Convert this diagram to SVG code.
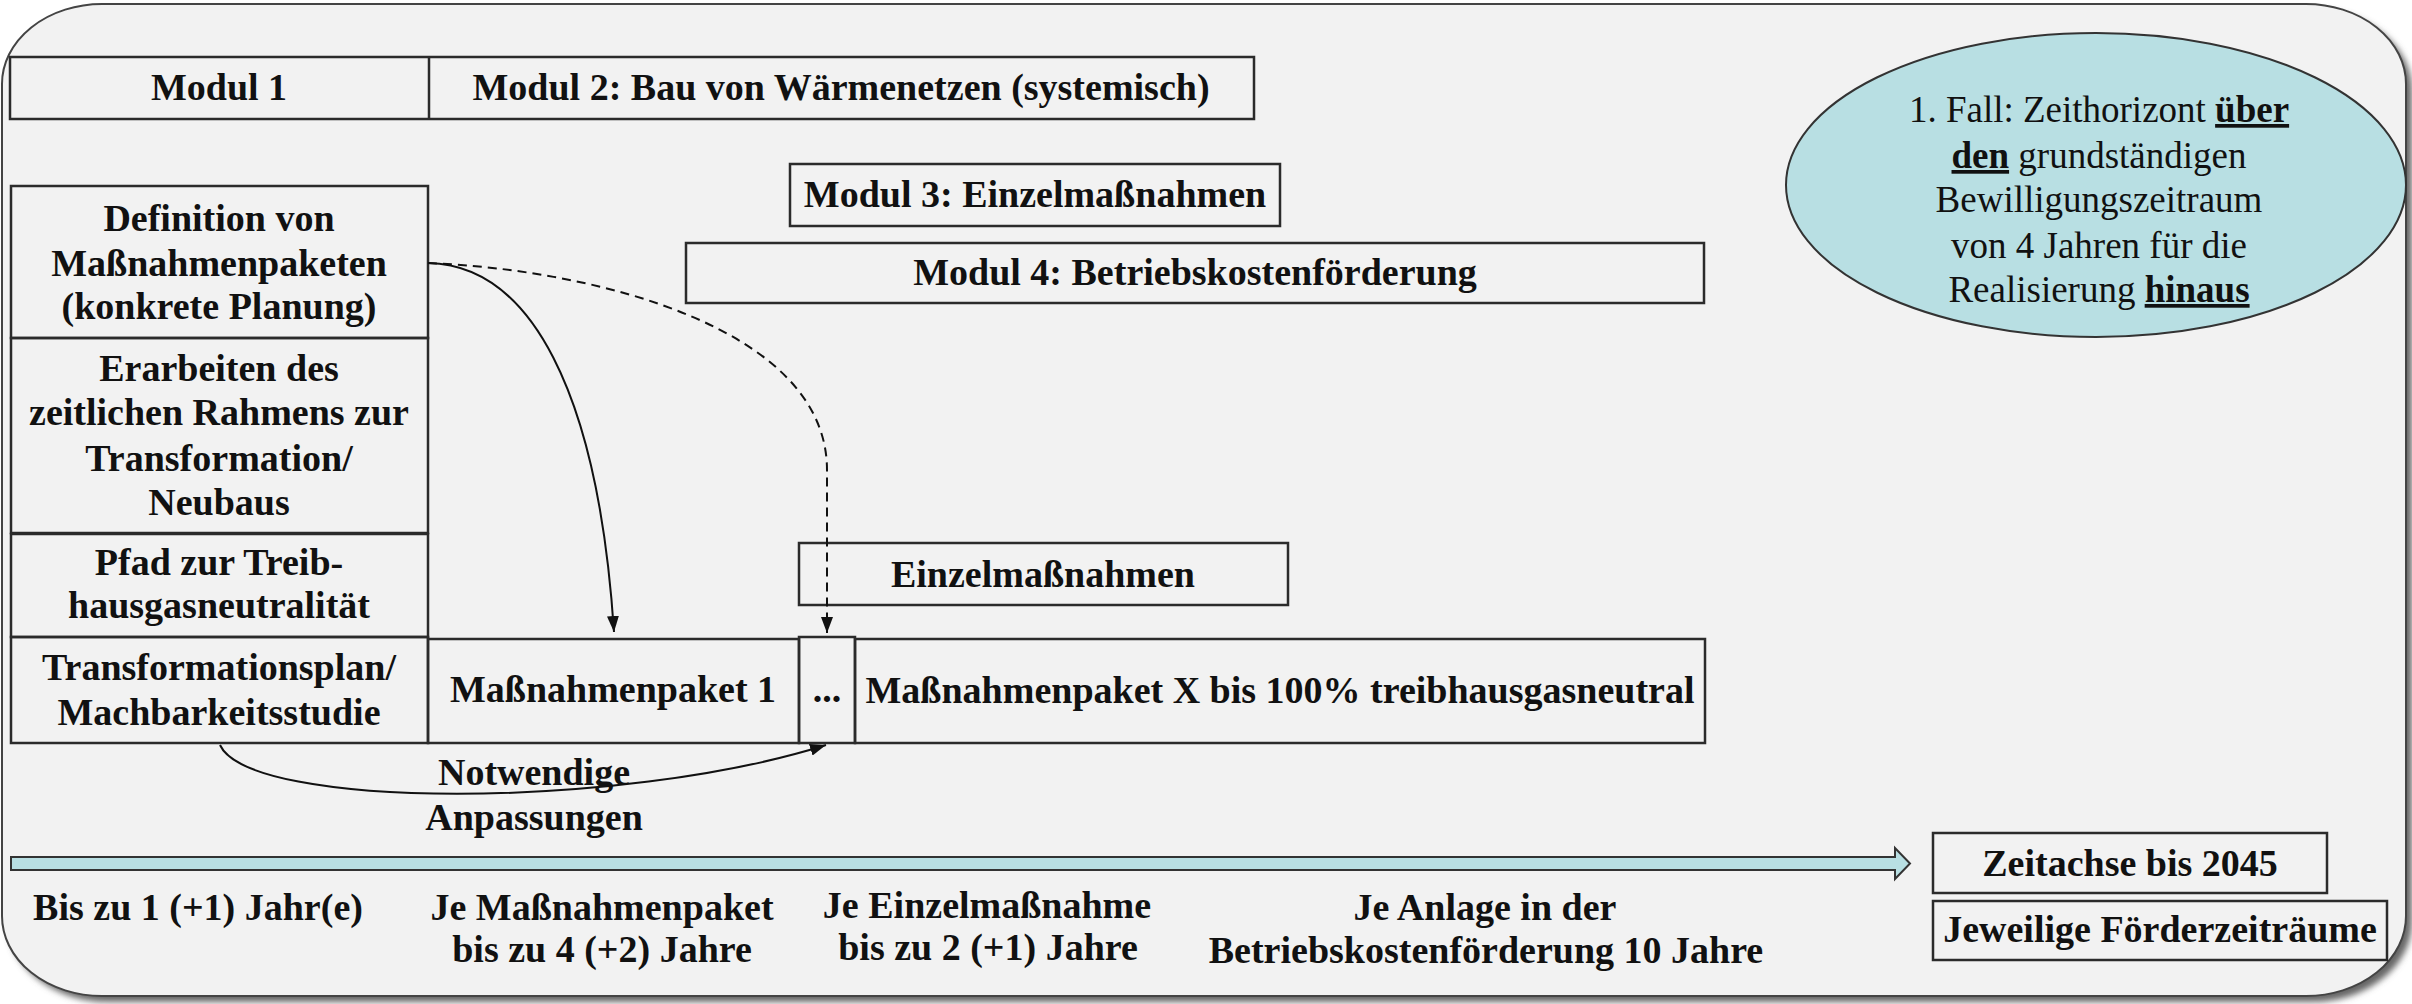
<svg xmlns="http://www.w3.org/2000/svg" width="2412" height="1004" viewBox="0 0 2412 1004">
<defs>
<style>
.bx{fill:none;stroke:#2b2b2b;stroke-width:2.5}
.t{font-family:"Liberation Serif","Times New Roman",serif;font-weight:bold;font-size:38px;fill:#111;text-anchor:middle}
.e{font-family:"Liberation Serif","Times New Roman",serif;font-size:37px;fill:#111;text-anchor:middle}
.b{font-weight:bold;text-decoration:underline}
.c{fill:none;stroke:#111;stroke-width:2}
</style>
<marker id="ah" viewBox="0 0 16 12" refX="16" refY="6" markerWidth="16" markerHeight="12" markerUnits="userSpaceOnUse" orient="auto">
<path d="M0,0 L16,6 L0,12 Z" fill="#111"/>
</marker>
<filter id="sh" x="-2%" y="-2%" width="104%" height="106%">
<feGaussianBlur stdDeviation="3"/>
</filter>
</defs>
<rect width="2412" height="1004" fill="#ffffff"/>
<g id="frame">
<rect x="8" y="10" width="2404" height="992" rx="100" ry="80" fill="#666" filter="url(#sh)"/>
<rect x="2" y="4" width="2404" height="992" rx="100" ry="80" fill="#f2f2f2" stroke="#444" stroke-width="2"/>
</g>
<g id="modul-row">
<rect class="bx" x="10" y="57" width="1244" height="62"/>
<line class="bx" x1="429" y1="57" x2="429" y2="119"/>
<text class="t" x="219" y="100">Modul 1</text>
<text class="t" x="841" y="100">Modul 2: Bau von Wärmenetzen (systemisch)</text>
</g>
<g id="modul3">
<rect class="bx" x="790" y="164" width="490" height="62"/>
<text class="t" x="1035" y="207">Modul 3: Einzelmaßnahmen</text>
</g>
<g id="modul4">
<rect class="bx" x="686" y="243" width="1018" height="60"/>
<text class="t" x="1195" y="285">Modul 4: Betriebskostenförderung</text>
</g>
<g id="definition">
<rect class="bx" x="11" y="186" width="417" height="152"/>
<text class="t" x="219" y="231">Definition von</text>
<text class="t" x="219" y="276">Maßnahmenpaketen</text>
<text class="t" x="219" y="319">(konkrete Planung)</text>
</g>
<g id="erarbeiten">
<rect class="bx" x="11" y="338" width="417" height="195"/>
<text class="t" x="219" y="381">Erarbeiten des</text>
<text class="t" x="219" y="425">zeitlichen Rahmens zur</text>
<text class="t" x="219" y="471">Transformation/</text>
<text class="t" x="219" y="515">Neubaus</text>
</g>
<g id="pfad">
<rect class="bx" x="11" y="534" width="417" height="103"/>
<text class="t" x="219" y="575">Pfad zur Treib-</text>
<text class="t" x="219" y="618">hausgasneutralität</text>
</g>
<g id="transformationsplan">
<rect class="bx" x="11" y="637" width="417" height="106"/>
<text class="t" x="219" y="680">Transformationsplan/</text>
<text class="t" x="219" y="725">Machbarkeitsstudie</text>
</g>
<g id="paket1">
<rect class="bx" x="428" y="639" width="371" height="104"/>
<text class="t" x="613" y="702">Maßnahmenpaket 1</text>
</g>
<g id="dots">
<rect class="bx" x="799" y="637" width="56" height="106"/>
<text class="t" x="827" y="702">...</text>
</g>
<g id="paketX">
<rect class="bx" x="855" y="639" width="850" height="104"/>
<text class="t" x="1280" y="703">Maßnahmenpaket X bis 100% treibhausgasneutral</text>
</g>
<g id="einzel">
<rect class="bx" x="799" y="543" width="489" height="62"/>
<text class="t" x="1043" y="587">Einzelmaßnahmen</text>
</g>
<g id="fall">
<ellipse cx="2096" cy="185" rx="310" ry="152" fill="#b8dfe3" stroke="#333" stroke-width="2"/>
<text class="e" x="2099" y="122">1. Fall: Zeithorizont <tspan class="b">über</tspan></text>
<text class="e" x="2099" y="168"><tspan class="b">den</tspan> grundständigen</text>
<text class="e" x="2099" y="212">Bewilligungszeitraum</text>
<text class="e" x="2099" y="258">von 4 Jahren für die</text>
<text class="e" x="2099" y="302">Realisierung <tspan class="b">hinaus</tspan></text>
</g>
<g id="timeline">
<polygon points="11,857 1895,857 1895,848 1910,863.5 1895,879 1895,870 11,870" fill="#b8dfe3" stroke="#333" stroke-width="2"/>
</g>
<g id="zeitachse">
<rect class="bx" x="1933" y="833" width="394" height="60"/>
<text class="t" x="2130" y="876">Zeitachse bis 2045</text>
</g>
<g id="foerderzeitraeume">
<rect class="bx" x="1933" y="901" width="454" height="59"/>
<text class="t" x="2160" y="942">Jeweilige Förderzeiträume</text>
</g>
<g id="labels">
<text class="t" x="198" y="920">Bis zu 1 (+1) Jahr(e)</text>
<text class="t" x="602" y="920">Je Maßnahmenpaket</text>
<text class="t" x="602" y="962">bis zu 4 (+2) Jahre</text>
<text class="t" x="987" y="918">Je Einzelmaßnahme</text>
<text class="t" x="988" y="960">bis zu 2 (+1) Jahre</text>
<text class="t" x="1485" y="920">Je Anlage in der</text>
<text class="t" x="1486" y="963">Betriebskostenförderung 10 Jahre</text>
<text class="t" x="534" y="785">Notwendige</text>
<text class="t" x="534" y="830">Anpassungen</text>
</g>
<g id="connectors">
<path class="c" d="M428,263 C530,265 598,390 614,632" marker-end="url(#ah)"/>
<path class="c" d="M428,263 C600,270 827,330 827,470 L827,633" stroke-dasharray="9,6" marker-end="url(#ah)"/>
<path class="c" d="M220,745 C250,810 620,810 826,745" marker-end="url(#ah)"/>
</g>
</svg>
